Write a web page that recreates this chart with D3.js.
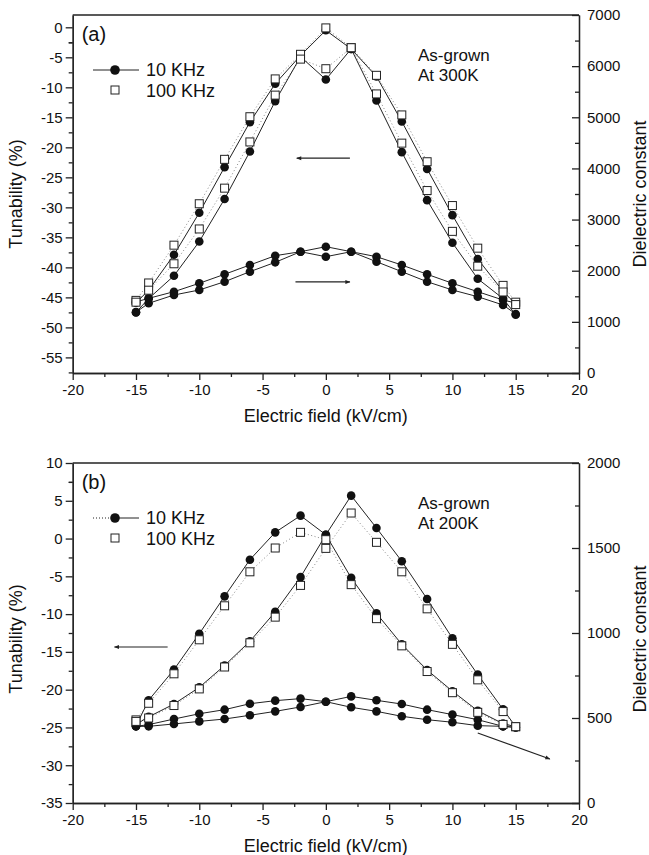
<!DOCTYPE html>
<html>
<head>
<meta charset="utf-8">
<script src="https://cdn.jsdelivr.net/npm/d3@7"></script>
<style>
  body { margin: 0; background: #fff; }
  text { font-family: "Liberation Sans", Arial, sans-serif; fill: #111; }
</style>
</head>
<body>
<div id="chart"></div>
<script>
// electric field sweep points (kV/cm), shared by every series
const fieldKV = [-15, -14, -12, -10, -8, -6, -4, -2, 0, 2, 4, 6, 8, 10, 12, 14, 15];

// (a) as-grown at 300K, tunability (%) - two sweep branches per frequency
const tun300_10k_a = [-45.9, -43.8, -37.9, -30.9, -23.3, -15.8, -9.4, -4.7, -0.5, -3.6, -8.2, -15.7, -23.6, -31.3, -38.6, -44.0, -46.1];
const tun300_10k_b = [-47.5, -45.2, -41.4, -35.7, -28.6, -20.7, -12.3, -4.9, -8.7, -3.6, -12.2, -20.8, -28.8, -35.9, -41.9, -45.2, -47.9];
const tun300_100k_a = [-45.5, -42.6, -36.3, -29.4, -22.0, -14.9, -8.6, -4.5, -0.1, -3.4, -8.0, -14.6, -22.4, -29.7, -36.8, -43.0, -45.8];
const tun300_100k_b = [-45.8, -43.8, -39.4, -33.6, -26.8, -19.1, -11.3, -5.3, -6.9, -3.4, -11.1, -19.3, -27.2, -34.0, -39.8, -44.1, -46.2];
// (a) dielectric constant
const diel300_a = [1390, 1460, 1590, 1754, 1930, 2112, 2294, 2372, 2470, 2372, 2274, 2112, 1930, 1754, 1590, 1427, 1368];
const diel300_b = [1190, 1363, 1525, 1623, 1785, 1981, 2164, 2372, 2274, 2372, 2176, 1981, 1785, 1623, 1492, 1330, 1154];

// (b) as-grown at 200K
const tun200_10k_a = [-24.8, -21.4, -17.35, -12.6, -7.65, -2.8, 0.82, 3.03, 0.5, -5.2, -9.9, -14.0, -17.4, -20.2, -22.8, -24.5, -24.9];
const tun200_10k_b = [-24.6, -23.6, -21.9, -19.7, -16.8, -13.6, -9.7, -5.1, 0.5, 5.68, 1.4, -3.0, -8.0, -13.2, -18.0, -22.6, -24.9];
const tun200_100k_a = [-24.0, -21.8, -17.9, -13.4, -8.9, -4.4, -1.25, 0.82, -0.15, -6.1, -10.6, -14.2, -17.6, -20.4, -23.0, -24.6, -24.9];
const tun200_100k_b = [-24.2, -23.75, -22.1, -19.9, -17.0, -13.8, -10.4, -6.2, -1.3, 3.38, -0.5, -4.4, -9.3, -14.0, -18.7, -22.9, -24.9];
const diel200_a = [451, 461, 494, 525, 549, 584, 602, 614, 596, 627, 604, 582, 549, 520, 490, 451, 445];
const diel200_b = [451, 451, 465, 480, 494, 516, 539, 565, 596, 563, 539, 510, 490, 475, 455, 451, 445];

// tick values
const fieldTicks = [-20, -15, -10, -5, 0, 5, 10, 15, 20];
const tunTicksA = [0, -5, -10, -15, -20, -25, -30, -35, -40, -45, -50, -55];
const tunTicksB = [10, 5, 0, -5, -10, -15, -20, -25, -30, -35];
const dielTicksA = [0, 1000, 2000, 3000, 4000, 5000, 6000, 7000];
const dielTicksB = [0, 500, 1000, 1500, 2000];

const W = 649, H = 855;
const svg = d3.select('#chart').append('svg')
  .attr('width', W).attr('height', H);

svg.append('defs').append('marker')
  .attr('id', 'arrow')
  .attr('viewBox', '0 0 10 10')
  .attr('refX', 9).attr('refY', 5)
  .attr('markerWidth', 7).attr('markerHeight', 5)
  .attr('markerUnits', 'userSpaceOnUse')
  .attr('orient', 'auto')
  .append('path').attr('d', 'M0,1 L10,5 L0,9 Z').attr('fill', '#222');

function drawPanel(p) {
  const g = svg.append('g');
  const x = d3.scaleLinear().domain([-20, 20]).range([p.left, p.right]);
  const yT = d3.scaleLinear().domain(p.tunDomain).range([p.bottom, p.top]);
  const yD = d3.scaleLinear().domain([0, p.dielMax]).range([p.bottom, p.top]);

  // frame top line
  g.append('line')
    .attr('x1', p.left).attr('x2', p.right)
    .attr('y1', p.top).attr('y2', p.top)
    .attr('stroke', '#222').attr('stroke-width', 1.3);

  const minorX = d3.range(-17.5, 20, 5);
  const axStyle = sel => {
    sel.selectAll('path,line').attr('stroke', '#222').attr('stroke-width', 1.3);
    sel.selectAll('text').style('font-size', '15px').attr('fill', '#111')
      .style('font-family', '"Liberation Sans", Arial, sans-serif');
  };

  g.append('g').attr('transform', `translate(0,${p.bottom})`)
    .call(d3.axisBottom(x).tickValues(fieldTicks).tickSize(7).tickSizeOuter(0).tickPadding(4).tickFormat(d => String(d)))
    .call(axStyle);
  g.append('g').attr('transform', `translate(0,${p.bottom})`)
    .call(d3.axisBottom(x).tickValues(minorX).tickSize(4).tickSizeOuter(0).tickFormat(''))
    .call(axStyle);

  g.append('g').attr('transform', `translate(${p.left},0)`)
    .call(d3.axisLeft(yT).tickValues(p.tunTicks).tickSize(7).tickSizeOuter(0).tickPadding(3).tickFormat(d => String(d)))
    .call(axStyle);
  g.append('g').attr('transform', `translate(${p.left},0)`)
    .call(d3.axisLeft(yT).tickValues(p.tunTicks.map(v => v - 2.5).filter(v => v > p.tunDomain[0]).concat([p.tunTicks[0] + 2.5 <= p.tunDomain[1] ? p.tunTicks[0] + 2.5 : p.tunTicks[0] - 2.5])).tickSize(4).tickSizeOuter(0).tickFormat(''))
    .call(axStyle);

  g.append('g').attr('transform', `translate(${p.right},0)`)
    .call(d3.axisRight(yD).tickValues(p.dielTicks).tickSize(-7).tickSizeOuter(0).tickPadding(8).tickFormat(d => String(d)))
    .call(axStyle);
  g.append('g').attr('transform', `translate(${p.right},0)`)
    .call(d3.axisRight(yD).tickValues(p.dielTicks.slice(1).map(v => v - p.dielStep / 2)).tickSize(-4).tickSizeOuter(0).tickFormat(''))
    .call(axStyle);

  // axis titles
  g.append('text')
    .attr('transform', `translate(22,${(p.top + p.bottom) / 2 + p.titleShift}) rotate(-90)`)
    .attr('text-anchor', 'middle').style('font-size', '18px')
    .text('Tunability (%)');
  g.append('text')
    .attr('transform', `translate(646,${(p.top + p.bottom) / 2 + p.titleShift}) rotate(-90)`)
    .attr('text-anchor', 'middle').style('font-size', '18px')
    .text('Dielectric constant');
  g.append('text')
    .attr('x', (p.left + p.right) / 2).attr('y', p.bottom + 49)
    .attr('text-anchor', 'middle').style('font-size', '18px')
    .text('Electric field (kV/cm)');

  // curves
  const lineT = d3.line().x((d, i) => x(fieldKV[i])).y(d => yT(d));
  const lineD = d3.line().x((d, i) => x(fieldKV[i])).y(d => yD(d));

  p.sq.forEach(s => {
    g.append('path').datum(s).attr('d', lineT)
      .attr('fill', 'none').attr('stroke', '#888').attr('stroke-width', 1)
      .attr('stroke-dasharray', '1,2.5');
  });
  p.circ.forEach(s => {
    g.append('path').datum(s).attr('d', lineT)
      .attr('fill', 'none').attr('stroke', '#222').attr('stroke-width', 1);
  });
  p.diel.forEach(s => {
    g.append('path').datum(s).attr('d', lineD)
      .attr('fill', 'none').attr('stroke', '#222').attr('stroke-width', 1);
  });

  p.circ.forEach(s => {
    g.selectAll(null).data(s).enter().append('circle')
      .attr('cx', (d, i) => x(fieldKV[i])).attr('cy', d => yT(d))
      .attr('r', 4.3).attr('fill', '#111');
  });
  p.diel.forEach(s => {
    g.selectAll(null).data(s).enter().append('circle')
      .attr('cx', (d, i) => x(fieldKV[i])).attr('cy', d => yD(d))
      .attr('r', 4.3).attr('fill', '#111');
  });
  p.sq.forEach(s => {
    g.selectAll(null).data(s).enter().append('rect')
      .attr('x', (d, i) => x(fieldKV[i]) - 4).attr('y', d => yT(d) - 4)
      .attr('width', 8).attr('height', 8)
      .attr('fill', '#fff').attr('stroke', '#222').attr('stroke-width', 1);
  });

  // arrows pointing to the axis each curve family belongs to
  g.append('line')
    .attr('x1', x(p.arrowT[0])).attr('y1', yT(p.arrowT[1]))
    .attr('x2', x(p.arrowT[2])).attr('y2', yT(p.arrowT[3]))
    .attr('stroke', '#222').attr('stroke-width', 1.2).attr('marker-end', 'url(#arrow)');
  g.append('line')
    .attr('x1', x(p.arrowD[0])).attr('y1', yD(p.arrowD[1]))
    .attr('x2', x(p.arrowD[2])).attr('y2', yD(p.arrowD[3]))
    .attr('stroke', '#222').attr('stroke-width', 1.2).attr('marker-end', 'url(#arrow)');

  // labels and legend
  g.append('text').attr('x', p.left + 9).attr('y', p.top + 26)
    .style('font-size', '20px').text(p.label);
  g.append('text').attr('x', 418).attr('y', p.top + 46)
    .style('font-size', '17px').text('As-grown');
  g.append('text').attr('x', 418).attr('y', p.top + 66)
    .style('font-size', '17px').text(p.temp);

  const ly = p.top + 55;
  g.append('line').attr('x1', 93).attr('x2', 115).attr('y1', ly).attr('y2', ly)
    .attr('stroke', '#222').attr('stroke-width', 1).attr('stroke-dasharray', p.legendDash);
  g.append('line').attr('x1', 115).attr('x2', 139).attr('y1', ly).attr('y2', ly)
    .attr('stroke', '#222').attr('stroke-width', 1);
  g.append('circle').attr('cx', 115).attr('cy', ly).attr('r', 4.8).attr('fill', '#111');
  g.append('text').attr('x', 146).attr('y', ly + 6).style('font-size', '18px').text('10 KHz');
  g.append('rect').attr('x', 111).attr('y', ly + 16).attr('width', 8).attr('height', 8)
    .attr('fill', '#fff').attr('stroke', '#222');
  g.append('text').attr('x', 146).attr('y', ly + 27).style('font-size', '18px').text('100 KHz');
}

drawPanel({
  top: 15, bottom: 373, left: 72.7, right: 579,
  tunDomain: [-57.6, 2.05], tunTicks: tunTicksA,
  dielMax: 7000, dielTicks: dielTicksA, dielStep: 1000,
  circ: [tun300_10k_a, tun300_10k_b],
  sq: [tun300_100k_a, tun300_100k_b],
  diel: [diel300_a, diel300_b],
  arrowT: [1.9, -21.8, -2.3, -21.8],
  arrowD: [-2.4, 1780, 1.9, 1780],
  label: '(a)', temp: 'At 300K', titleShift: 0, legendDash: 'none'
});

drawPanel({
  top: 463, bottom: 803, left: 72.7, right: 579,
  tunDomain: [-35, 10], tunTicks: tunTicksB,
  dielMax: 2000, dielTicks: dielTicksB, dielStep: 500,
  circ: [tun200_10k_a, tun200_10k_b],
  sq: [tun200_100k_a, tun200_100k_b],
  diel: [diel200_a, diel200_b],
  arrowT: [-12.5, -14.35, -16.7, -14.35],
  arrowD: [12.0, 412, 17.7, 259],
  label: '(b)', temp: 'At 200K', titleShift: 6, legendDash: '1,2'
});
</script>
</body>
</html>
